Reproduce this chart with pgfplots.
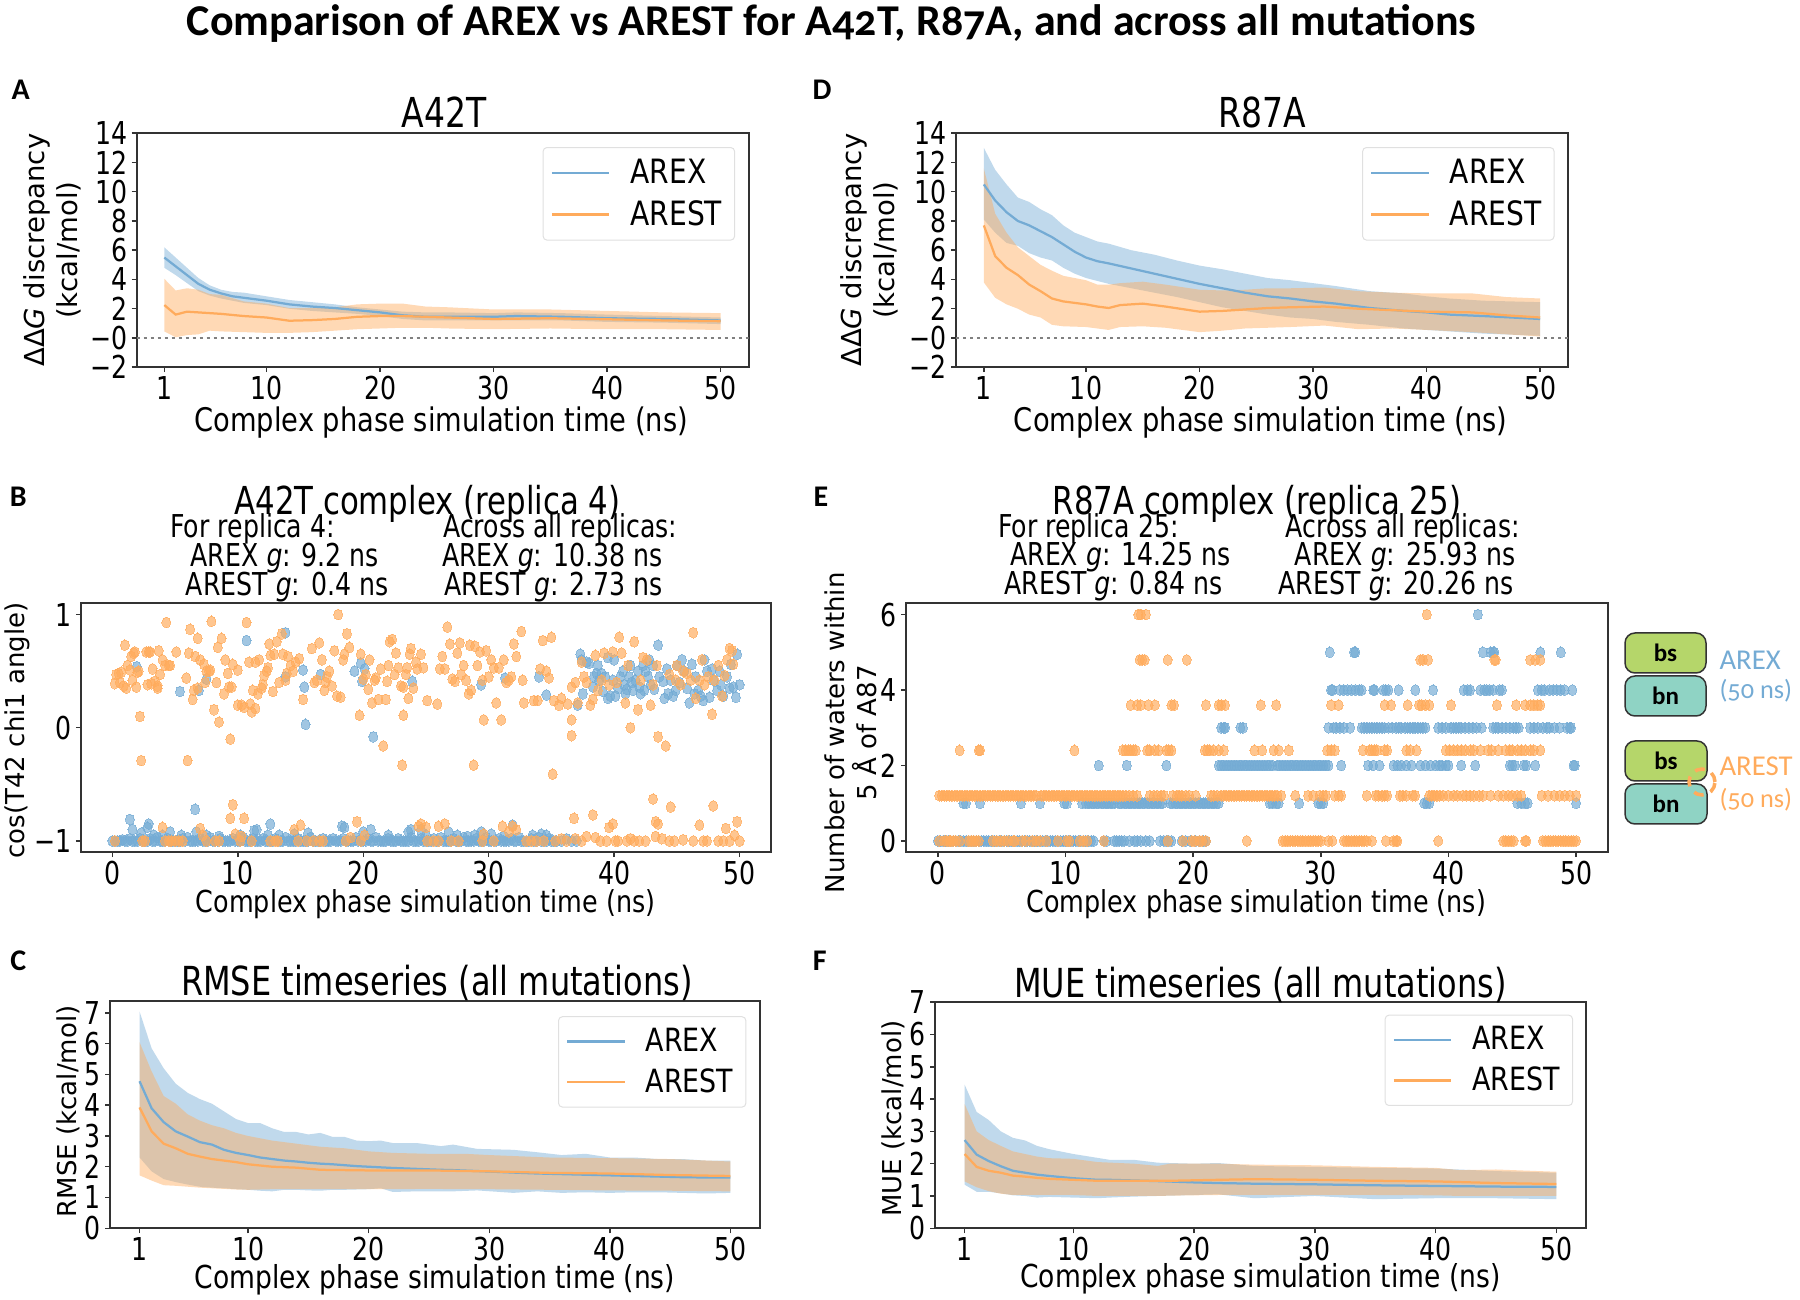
\documentclass[border=0pt]{standalone}
\usepackage{fontspec}
\usepackage{pgfplots}
\usepackage{pgfplotstable}
\pgfplotsset{compat=1.18}
\usepgfplotslibrary{fillbetween}
\setmainfont{DejaVu Sans}
% the reference is stretched upward: upright text comes out narrow
\newfontfamily\tallf[FakeStretch=0.8]{DejaVu Sans}
\newfontfamily\xlabf[FakeStretch=0.84]{DejaVu Sans}
\newfontfamily\headf[Numbers=OldStyle]{Carlito}
\newcommand{\lab}{\tallf\fontsize{12.6}{14}\selectfont}
\newcommand{\xl}[1]{\xlabf\fontsize{#1}{15}\selectfont}
\newcommand{\legf}{\xlabf\fontsize{13.4}{15}\selectfont}
\newcommand{\legs}{\xlabf\fontsize{12.8}{15}\selectfont}
\newcommand{\rot}{\rmfamily\fontsize{10.4}{12.8}\selectfont}
\newcommand{\rotb}{\rmfamily\fontsize{11}{13.2}\selectfont}
\newcommand{\ttlfont}[1]{\tallf\fontsize{#1}{18}\selectfont}

\definecolor{arex}{HTML}{74ABD4}
\definecolor{arest}{HTML}{FFAB5C}
\definecolor{frame}{HTML}{333333}
\definecolor{bsgreen}{HTML}{B5D66A}
\definecolor{bnteal}{HTML}{8FD3C4}

% columns: x, upper, mean, lower
\pgfplotstableread{
x hi mid lo
1 6.2 5.5 4.8
2 5.5 4.9 4.3
3 4.8 4.3 3.75
4 4.1 3.7 3.2
5 3.6 3.3 2.9
6 3.3 3.05 2.7
7 3.15 2.85 2.55
8 3.1 2.75 2.4
10 2.85 2.55 2.25
12 2.6 2.3 2.0
14 2.45 2.15 1.85
16 2.3 2.05 1.75
18 2.1 1.9 1.65
20 1.95 1.75 1.5
22 1.8 1.55 1.3
24 1.75 1.45 1.2
26 1.75 1.45 1.2
30 1.7 1.45 1.2
32 1.75 1.5 1.2
36 1.7 1.45 1.2
40 1.6 1.35 1.1
45 1.5 1.3 1.05
50 1.4 1.2 0.95
}\aAREX
\pgfplotstableread{
x hi mid lo
1 4.05 2.25 0.45
2 3.25 1.6 0.05
3 3.4 1.8 0.2
4 3.3 1.75 0.25
5 3.0 1.7 0.5
6 2.95 1.65 0.45
8 2.5 1.5 0.4
10 2.35 1.4 0.35
12 2.05 1.18 0.35
14 2.05 1.22 0.4
16 2.1 1.3 0.5
18 2.3 1.45 0.6
20 2.35 1.5 0.65
22 2.35 1.5 0.7
24 2.15 1.45 0.7
26 2.1 1.4 0.65
30 1.95 1.3 0.6
35 1.95 1.35 0.65
40 1.85 1.28 0.6
45 1.75 1.2 0.6
50 1.7 1.15 0.55
}\aAREST
\pgfplotstableread{
x hi mid lo
1 13 10.5 8.1
2 11.5 9.4 7.2
3 10.5 8.6 6.5
4 9.6 8.0 6.3
5 9.3 7.7 5.8
6 8.8 7.3 5.5
7 8.4 6.9 5.3
8 7.7 6.4 4.8
9 7.2 5.9 4.4
10 6.9 5.5 4.1
11 6.6 5.25 3.9
12 6.45 5.1 3.7
14 6.0 4.75 3.4
16 5.7 4.4 3.1
18 5.3 4.05 2.8
20 4.95 3.7 2.45
22 4.7 3.4 2.1
24 4.4 3.1 1.85
26 4.1 2.85 1.6
28 3.95 2.7 1.4
30 3.75 2.5 1.3
32 3.55 2.35 1.1
35 3.2 2.05 0.9
38 3.05 1.85 0.65
40 2.85 1.75 0.55
42 2.7 1.6 0.45
45 2.55 1.5 0.3
50 2.45 1.3 0.15
}\dAREX
\pgfplotstableread{
x hi mid lo
1 11.6 7.7 3.8
2 8.5 5.6 2.75
3 7.2 4.8 2.3
4 6.2 4.3 2.0
5 5.6 3.65 1.6
6 5.0 3.2 1.4
7 4.6 2.7 0.9
8 4.25 2.5 0.8
10 3.95 2.3 0.75
11 3.65 2.15 0.65
12 3.65 2.05 0.55
13 3.75 2.25 0.75
15 3.85 2.35 0.8
17 3.65 2.15 0.7
20 3.3 1.8 0.4
22 3.25 1.85 0.5
24 3.3 1.95 0.65
26 3.4 2.05 0.7
28 3.4 2.1 0.75
31 3.45 2.15 0.85
34 3.2 2.0 0.6
37 3.1 1.9 0.65
40 3.05 1.8 0.55
44 3.05 1.75 0.4
47 2.8 1.55 0.25
50 2.7 1.4 0.1
}\dAREST
\pgfplotstableread{
x hi mid lo
1 7.05 4.78 2.3
2 5.85 3.9 1.85
3 5.2 3.45 1.6
4 4.7 3.15 1.5
5 4.4 2.98 1.42
6 4.2 2.8 1.35
7 4.05 2.72 1.32
8 3.8 2.55 1.3
9 3.55 2.45 1.27
10 3.42 2.38 1.25
11 3.42 2.3 1.22
12 3.25 2.25 1.2
13 3.13 2.2 1.25
14 3.13 2.17 1.25
15 3.05 2.13 1.23
16 3.1 2.1 1.22
17 2.97 2.08 1.25
18 2.97 2.05 1.25
19 2.85 2.02 1.26
20 2.83 2.0 1.27
21 2.85 1.98 1.3
22 2.77 1.96 1.18
24 2.77 1.93 1.2
26 2.67 1.9 1.2
27 2.72 1.89 1.2
29 2.58 1.86 1.23
32 2.55 1.81 1.15
34 2.47 1.78 1.2
36 2.38 1.76 1.15
38 2.42 1.74 1.17
40 2.3 1.72 1.15
42 2.3 1.7 1.17
44 2.25 1.68 1.17
46 2.25 1.66 1.15
48 2.2 1.65 1.13
50 2.2 1.65 1.15
}\cAREX
\pgfplotstableread{
x hi mid lo
1 6.05 3.93 1.72
2 5.1 3.15 1.55
3 4.3 2.75 1.4
4 4.05 2.6 1.38
5 3.7 2.42 1.35
6 3.5 2.33 1.32
7 3.35 2.25 1.3
8 3.25 2.2 1.28
9 3.1 2.15 1.26
10 3.0 2.08 1.25
12 2.85 2.0 1.27
14 2.75 1.97 1.27
16 2.65 1.9 1.27
18 2.6 1.89 1.27
20 2.5 1.88 1.27
22 2.45 1.88 1.27
25 2.42 1.88 1.28
28 2.42 1.86 1.27
30 2.38 1.85 1.27
35 2.3 1.8 1.25
40 2.28 1.78 1.23
45 2.25 1.73 1.22
50 2.17 1.7 1.2
}\cAREST
\pgfplotstableread{
x hi mid lo
1 4.45 2.73 1.35
2 3.6 2.28 1.13
3 3.35 2.08 1.13
4 3.0 1.92 1.08
5 2.8 1.78 1.02
6 2.72 1.72 1.0
7 2.55 1.66 0.95
8 2.45 1.62 0.97
10 2.3 1.55 0.95
12 2.18 1.5 0.93
13 2.12 1.5 0.95
15 2.12 1.48 0.98
17 2.03 1.46 1.0
20 2.0 1.42 1.03
22 2.02 1.4 1.05
25 1.93 1.38 0.93
30 1.9 1.36 1.0
35 1.87 1.33 0.9
40 1.85 1.31 0.93
45 1.77 1.29 0.93
50 1.72 1.28 0.9
}\fAREX
\pgfplotstableread{
x hi mid lo
1 3.85 2.3 1.45
2 3.0 1.9 1.27
3 2.73 1.78 1.15
4 2.55 1.72 1.07
5 2.38 1.63 1.03
6 2.3 1.6 1.03
7 2.22 1.56 1.03
8 2.17 1.53 1.03
10 2.15 1.5 1.03
12 2.05 1.47 1.0
15 2.0 1.47 1.0
17 1.93 1.47 1.0
18 2.0 1.47 1.01
22 2.0 1.5 1.03
25 1.97 1.52 1.03
30 1.95 1.5 1.03
35 1.9 1.47 1.03
40 1.87 1.45 1.02
42 1.8 1.43 1.0
45 1.82 1.4 1.0
50 1.75 1.37 1.0
}\fAREST

\pgfplotsset{
  panel/.style={
    scale only axis,
    axis line style={line width=0.8pt,color=frame},
    tick style={color=frame,line width=0.6pt},
    major tick length=2pt,
    tick align=outside,
    tick pos=lower,
    ticklabel style={font=\lab,inner sep=1.5pt},
    every axis title/.style={anchor=center,inner sep=0pt},
    every axis x label/.style={anchor=center,inner sep=0pt},
    every axis y label/.style={font=\rot,anchor=center,rotate=90,align=center,inner sep=0pt},
    legend cell align=left,
    legend image code/.code={\draw[##1,line width=0.9pt] (0pt,0pt) -- (23pt,0pt);},
    legend style={font=\legf,draw=black!12,rounded corners=1.5pt,anchor=north east,
      row sep=1.3pt,inner xsep=3pt,inner ysep=2.5pt,
      /tikz/every odd column/.append style={column sep=6pt}},
  },
  timeaxis/.style={panel,xmin=-1.45,xmax=52.45,xtick={1,10,20,30,40,50},
    xticklabels={1,10,20,30,40,50}},
  dots/.style={only marks,color=#1,mark=*,mark size=1.8pt,
    mark options={draw=#1,line width=0pt,fill=#1,opacity=0.68,yscale=1.2}},
}
% one series: shaded band and mean line, read from a table
\newcommand{\band}[3]{%
  \addplot[draw=none,name path=#1hi,forget plot] table[x=x,y=hi] {#2};
  \addplot[draw=none,name path=#1lo,forget plot] table[x=x,y=lo] {#2};
  \addplot[fill=#3,fill opacity=0.45,forget plot] fill between[of=#1hi and #1lo];
  \addplot[#3,line width=0.9pt] table[x=x,y=mid] {#2};
}
% text placed in the coordinates of the shrunk reference
\newcommand{\tx}[3]{\node[font=\lab,inner sep=0pt] at ({#1*0.4592pt},{(1130-#2)*0.4592pt}) {#3};}
\newcommand{\letter}[3]{\node[font=\headf\bfseries\fontsize{12}{13}\selectfont,inner sep=0pt] at ({#1*0.4592pt},{(1130.5-#2)*0.4592pt}) {#3};}
\newcommand{\gi}{\textit{g}}

\begin{document}
\begin{tikzpicture}

\node[font=\headf\bfseries\fontsize{17.6}{22}\selectfont,inner sep=0pt] at (332.6pt,510pt)
  {Comparison of AREX vs AREST for A42T, R87A, and across all mutations};
\letter{18}{77}{A}\letter{716}{77}{D}
\letter{16}{432}{B}\letter{715}{432}{E}
\letter{16}{836}{C}\letter{714}{836}{F}

% A
\begin{axis}[timeaxis,at={(54.6pt,372.7pt)},anchor=south west,width=244.8pt,height=93.6pt,
  ymin=-2,ymax=14,ytick={-2,0,2,4,6,8,10,12,14},yticklabels={−2,−0,2,4,6,8,10,12,14},
  title={A42T},title style={font=\ttlfont{16.5},at={(axis description cs:0.503,1.09)}},
  xlabel={Complex phase simulation time (ns)},xlabel style={font=\xl{13},at={(axis description cs:0.498,-0.238)}},
  ylabel={ΔΔ\textit{G} discrepancy\\(kcal/mol)},ylabel style={font=\rotb,at={(axis description cs:-0.138,0.5)}},
  legend style={at={(0.978,0.941)}}]
\band{a}{\aAREX}{arex}
\band{b}{\aAREST}{arest}
\addplot[gray,line width=1.1pt,dash pattern=on 1.2pt off 1.6pt,forget plot] coordinates {(-1.45,0) (52.45,0)};
\legend{AREX,AREST}
\end{axis}

% D
\begin{axis}[timeaxis,at={(382.4pt,372.7pt)},anchor=south west,width=244.8pt,height=93.6pt,
  ymin=-2,ymax=14,ytick={-2,0,2,4,6,8,10,12,14},yticklabels={−2,−0,2,4,6,8,10,12,14},
  title={R87A},title style={font=\ttlfont{16.5},at={(axis description cs:0.5,1.09)}},
  xlabel={Complex phase simulation time (ns)},xlabel style={font=\xl{13},at={(axis description cs:0.498,-0.238)}},
  ylabel={ΔΔ\textit{G} discrepancy\\(kcal/mol)},ylabel style={font=\rotb,at={(axis description cs:-0.142,0.5)}},
  legend style={at={(0.978,0.941)}}]
\band{a}{\dAREX}{arex}
\band{b}{\dAREST}{arest}
\addplot[gray,line width=1.1pt,dash pattern=on 1.2pt off 1.6pt,forget plot] coordinates {(-1.45,0) (52.45,0)};
\legend{AREX,AREST}
\end{axis}

% B
\begin{axis}[panel,at={(32.4pt,178.7pt)},anchor=south west,width=276pt,height=99.6pt,
  xmin=-2.5,xmax=52.5,xtick={0,10,20,30,40,50},xticklabels={0,10,20,30,40,50},
  ymin=-1.1,ymax=1.1,ytick={-1,0,1},yticklabels={−1,0,1},
  title={A42T complex (replica 4)},title style={font=\ttlfont{15.4},at={(axis description cs:0.502,1.399)}},
  xlabel={Complex phase simulation time (ns)},xlabel style={font=\xl{12.1},at={(axis description cs:0.4995,-0.21)}},
  ylabel={cos(T42 chi1 angle)},ylabel style={at={(axis description cs:-0.092,0.49)}}]
\addplot[dots=arex] coordinates {
(1.94,.54)(5.39,.32)(6.9,.33)(7.5,.43)(10.7,.77)(13.8,.84)(13.8,.45)(15.2,.51)(15.3,.36)(15.4,.03)
(16.6,.47)(19.3,.5)(19.8,.57)(20.1,.52)(19.9,.41)(20.8,-.08)(23.9,.41)(29.4,.38)(31.3,.44)(34,.45)(34.6,.29)
(37.1,.2)(37.3,.65)(37.4,.6)(37.5,.3)(37.8,.58)(38,.57)(38.3,.36)(38.4,.45)(38.6,.48)(38.7,.55)(38.8,.42)
(39,.48)(39.1,.32)(39.3,.45)(39.5,.26)(39.5,.62)(39.7,.28)(39.9,.42)(40,.6)(40.1,.28)(40.3,.35)(40.5,.45)
(40.7,.5)(40.8,.38)(40.9,.3)(41,.34)(41.2,.45)(41.3,.55)(41.4,.4)(41.5,.33)(41.7,.42)(41.9,.5)(42,.36)
(42.1,.3)(42.3,.55)(42.4,.33)(42.5,.5)(42.7,.45)(42.8,.6)(42.9,.38)(43.1,.55)(43.2,.34)(43.5,.73)(43.6,.45)
(43.9,.41)(44,.26)(44.2,.52)(44.3,.3)(44.5,.42)(44.7,.28)(44.9,.33)(45,.55)(45.2,.4)(45.4,.6)(45.6,.5)
(45.8,.35)(46,.22)(46.2,.56)(46.4,.3)(46.5,.45)(46.7,.33)(46.9,.28)(47.1,.24)(47.2,.6)(47.4,.5)(47.6,.27)
(47.8,.52)(47.9,.42)(48.2,.33)(48.4,.5)(48.5,.38)(48.7,.28)(49,.45)(49.2,.35)(49.3,.56)(49.5,.36)(49.7,.27)
(49.8,.65)(50,.38)
(1.4,-.81)(1.6,-.9)(2.3,-.93)(2.8,-.88)(2.9,-.85)(3.3,-.95)(4,-.95)(4.6,-.92)(5.5,-.95)(6.6,-.72)(6.7,-.92)
(7.5,-.95)(8.5,-.96)(10.2,-.95)(11.3,-.91)(11.5,-.9)(12.4,-.95)(12.6,-.85)(13.3,-.95)(14.5,-.94)(15.6,-.93)
(18.3,-.87)(18.5,-.88)(20,-.92)(20.6,-.9)(22,-.95)(23.6,-.92)(23.8,-.9)(24.6,-.9)(25,-.95)(26.8,-.92)
(27.5,-.95)(28.3,-.96)(28.9,-.95)(29.4,-.92)(30.2,-.94)(31.2,-.96)(31.9,-.86)(33.5,-.95)(34.2,-.94)(34.6,-.95)
(0,-1)(.2,-1)(.4,-1)(.6,-1)(.8,-.99)(1,-1)(1.2,-1)(1.4,-.98)(1.6,-1)(1.8,-1)(2,-1)(2.2,-.98)(2.4,-1)(2.6,-1)
(2.8,-1)(3,-.98)(3.2,-1)(3.4,-1)(3.6,-.97)(3.8,-1)(4,-1)(4.2,-1)(4.4,-.98)(4.6,-1)(4.8,-1)(5,-1)(5.2,-1)
(5.4,-1)(5.6,-.98)(5.8,-1)(6,-.97)(6.2,-1)(6.4,-1)(6.6,-1)(6.8,-1)(7,-.98)(7.2,-1)(7.4,-1)(7.6,-1)(7.8,-.97)
(8,-1)(8.2,-1)(8.4,-1)(8.6,-.98)(8.8,-1)(9,-1)(9.2,-1)(9.4,-1)(9.6,-.98)(9.8,-1)(10,-1)(10.2,-1)(10.4,-.97)
(10.6,-1)(10.8,-1)(11,-1)(11.2,-.98)(11.4,-1)(11.6,-1)(11.8,-1)(12,-.98)(12.2,-1)(12.4,-1)(12.6,-1)(12.8,-1)
(13,-.98)(13.2,-1)(13.4,-1)(13.6,-1)(13.8,-.97)(14,-1)(14.2,-1)(14.4,-1)(14.6,-1)(14.8,-.98)(15,-1)(15.2,-1)
(15.4,-1)(15.6,-1)(15.8,-.97)(16,-1)(16.2,-1)(16.4,-1)(16.6,-1)(16.8,-.98)(17,-1)(17.2,-1)(17.4,-1)(17.6,-.98)
(17.8,-1)(18,-1)(18.2,-1)(18.4,-.98)(18.6,-1)(18.8,-1)(19,-1)(19.2,-1)(19.4,-.97)(19.6,-1)(19.8,-1)(20,-1)
(20.2,-1)(20.4,-.98)(20.6,-1)(20.8,-1)(21,-.97)(21.2,-1)(21.4,-1)(21.6,-1)(21.8,-1)(22,-.98)(22.2,-1)(22.4,-1)
(22.6,-1)(22.8,-.98)(23,-1)(23.2,-1)(23.4,-1)(23.6,-1)(23.8,-.97)(24,-1)(24.2,-1)(24.4,-1)(24.6,-.98)(24.8,-1)
(25,-1)(25.2,-1)(25.4,-1)(25.6,-.98)(25.8,-1)(26,-1)(26.2,-.97)(26.4,-1)(26.6,-1)(26.8,-1)(27,-1)(27.2,-.98)
(27.4,-1)(27.6,-1)(27.8,-1)(28,-.97)(28.2,-1)(28.4,-1)(28.6,-1)(28.8,-1)(29,-.98)(29.2,-1)(29.4,-1)(29.6,-1)
(29.8,-.97)(30,-1)(30.2,-1)(30.4,-1)(30.6,-1)(30.8,-.98)(31,-1)(31.2,-1)(31.4,-1)(31.6,-1)(31.8,-.98)(32,-1)
(32.2,-1)(32.4,-.97)(32.6,-1)(32.8,-1)(33,-1)(33.2,-1)(33.4,-.98)(33.6,-1)(33.8,-1)(34,-.97)(34.2,-1)(34.4,-1)
(34.6,-1)(34.8,-.98)(35,-1)(35.2,-1)(35.4,-1)(35.8,-1)(36.2,-.98)(36.6,-1)(37,-1)
};
\addplot[dots=arest] coordinates {
(.2,.39)(.3,.47)(.5,.48)(.6,.40)(.7,.49)(.9,.37)(1,.73)(1.1,.35)(1.2,.55)(1.4,.51)(1.5,.63)(1.6,.42)(1.7,.66)
(1.8,.67)(1.9,.36)(2,.49)(2.1,.5)(2.2,.10)(2.3,-.29)(2.7,.67)(2.8,.38)(2.9,.67)(3,.67)(3.1,.39)(3.2,.52)
(3.4,.41)(3.6,.37)(3.6,.35)(3.7,.68)(3.8,.47)(4,.6)(4.2,.55)(4.3,.93)(4.5,.55)(4.6,.55)(5.1,.67)(5.9,.44)
(6,-.29)(6.1,.66)(6.2,.87)(6.4,.25)(6.5,.33)(6.6,.63)(6.8,.79)(6.8,.35)(7,.6)(7.3,.56)(7.4,.4)(7.5,.5)(7.7,.5)
(7.8,.51)(7.9,.94)(8.1,.16)(8.3,.4)(8.4,.71)(8.5,.05)(8.7,.79)(8.9,.3)(9,.6)(9.2,.48)(9.3,.36)(9.4,-.1)(9.5,.36)
(9.6,.56)(10,.51)(10,.2)(10.3,.2)(10.5,.18)(10.7,.93)(10.9,.58)(11,.21)(11.1,.14)(11.2,.33)(11.4,.17)(11.4,.58)
(11.6,.3)(11.7,.6)(11.9,.35)(12,.38)(12.1,.46)(12.3,.5)(12.4,.53)(12.5,.74)(12.6,.64)(12.8,.32)(12.9,.65)
(13.1,.76)(13.3,.4)(13.5,.83)(13.6,.65)(13.8,.42)(13.9,.48)(14,.63)(14.2,.55)(14.4,.5)(14.6,.58)(14.9,.61)
(15.2,.25)(15.9,.7)(16.1,.4)(16.3,.42)(16.5,.75)(16.7,.6)(16.9,.33)(17,.4)(17.1,.45)(17.3,.5)(17.5,.37)(17.7,.68)
(17.9,.28)(18,1)(18.2,.27)(18.4,.6)(18.5,.65)(18.7,.83)(18.9,.71)(19.7,.11)(19.8,.65)(20,.43)(20.2,.47)(20.4,.34)
(20.5,.6)(20.7,.22)(20.9,.42)(21,.44)(21.2,.25)(21.4,.52)(21.6,-.16)(21.8,.25)(21.9,.41)(22,.55)(22.1,.76)(22.3,.78)
(22.5,.47)(22.6,.66)(22.8,.53)(23,.37)(23.2,.36)(23.4,.47)(23.5,.53)(23.1,-.33)(23.2,.11)(23.6,.26)(23.7,.65)(23.8,.7)
(24,.35)(24.2,.58)(24.3,.52)(24.6,.65)(24.8,.53)(25.1,.24)(25.9,.21)(26.1,.52)(26.3,.63)(26.5,.52)(26.7,.89)(26.9,.74)
(27.1,.43)(27.3,.41)(27.5,.66)(27.7,.75)(27.8,.47)(28,.55)(28.2,.42)(28.4,.3)(28.5,.73)(28.6,.33)(28.8,-.33)(28.9,.72)
(29.1,.55)(29.3,.67)(29.5,.42)(29.6,.07)(29.8,.68)(30,.45)(30.2,.6)(30.4,.53)(30.6,.22)(30.8,.53)(31,.07)(31.2,.6)
(31.4,.4)(31.6,.42)(31.8,.45)(32,.74)(32.2,.63)(32.6,.85)(32.8,.22)(32.7,.42)(33.6,.24)(33.9,.24)(34.1,.52)(34.3,.77)
(34.6,.5)(34.8,.44)(35,.8)(35.2,.24)(35.1,-.41)(35.6,.2)(35.8,.26)(36.3,.21)(36.6,.36)(36.6,.07)(36.6,-.07)(36.9,.4)
(37.1,.22)(37.4,.58)(37.6,.45)(37.8,.4)(38.1,.2)(38.3,.25)(38.5,.64)(38.7,.33)(39,.42)(39.2,.66)(39.6,.38)(39.9,.67)
(40.2,.4)(40.4,.8)(40.6,.66)(40.9,.22)(41.1,.55)(41.3,-.0)(41.6,.76)(41.9,.16)(42.1,.42)(42.3,.62)(42.6,.6)(42.9,.2)
(43.1,.38)(43.4,.55)(43.5,-.08)(44.1,-.16)(44.4,.47)(44.9,.42)(45,.55)(45.3,.38)(45.5,.5)(45.8,.48)(46.1,.42)(46.3,.84)
(46.5,.26)(46.8,.42)(47,.6)(47.2,.38)(47.5,.45)(47.8,.12)(48,.42)(48.3,.55)(48.6,.28)(48.8,.46)(49,.6)(49.2,.7)(49.4,.68)
(49.5,.56)
(2.4,-1)(.2,-1)(2.6,-1)(4,-.88)(4.2,-1)(4.5,-1)(4.7,-1)(5,-1)(5.3,-1)(5.6,-1)(7,-.89)(7.2,-.95)(7.5,-1)(8.2,-1)(8.5,-1)
(9.6,-.68)(9.4,-.8)(9.8,-.94)(10.2,-1)(10.5,-.8)(10.3,-.96)(11.1,-1)(12.6,-1)(13,-1)(13.2,-1)(14.5,-.9)(15,-.86)
(14.8,-1)(15.5,-1)(16,-1)(16.5,-1)(16.8,-1)(18.6,-1)(19,-.97)(19.5,-.83)(19.8,-1)(20.1,-.95)(24.4,-.87)(24.6,-.85)
(25,-.88)(25.1,-1)(25.6,-1)(26,-1)(26,-.87)(26.5,-.85)(27,-1)(27.6,-1)(29.6,-.94)(29.5,-1)(30.4,-1)(31.1,-.87)(31.6,-.92)
(31.9,-.87)(32.2,-.9)(33,-1)(33.4,-1)(33.8,-1)(34.4,-1)(35.3,-1)(35.8,-.98)(36.2,-1)(36.8,-.8)(36.9,-.98)(37.4,-1)
(37.8,-.96)(38.3,-.77)(38.5,-.97)(38.9,-1)(39.4,-1)(39.6,-.88)(39.9,-.85)(40.1,-1)(40.3,-1)(41,-1)(41.3,-.98)(41.6,-1)
(42,-1)(42.5,-1)(43.1,-.63)(43.3,-.83)(43.5,-.85)(43.3,-.96)(43.8,-.98)(44.5,-.7)(44.4,-1)(44.8,-1)(45.5,-.99)(46.3,-1)
(46.8,-.86)(47.1,-1)(47.4,-1)(47.9,-.69)(48.3,-1)(48.7,-1)(48.9,-.89)(49.2,-1)(49.6,-.95)(49.8,-.83)(50,-1)
};
\end{axis}
\tx{220}{459}{For replica 4:}
\tx{248}{485}{AREX \gi: 9.2 ns}
\tx{250}{510}{AREST \gi: 0.4 ns}
\tx{488}{459}{Across all replicas:}
\tx{481}{485}{AREX \gi: 10.38 ns}
\tx{482}{510}{AREST \gi: 2.73 ns}

% E
\begin{axis}[panel,at={(362.4pt,178.7pt)},anchor=south west,width=280.8pt,height=99.6pt,
  xmin=-2.5,xmax=52.5,xtick={0,10,20,30,40,50},xticklabels={0,10,20,30,40,50},
  ymin=-0.3,ymax=6.3,ytick={0,2,4,6},yticklabels={0,2,4,6},
  title={R87A complex (replica 25)},title style={font=\ttlfont{15.4},at={(axis description cs:0.5,1.399)}},
  xlabel={Complex phase simulation time (ns)},xlabel style={font=\xl{12.1},at={(axis description cs:0.499,-0.21)}},
  ylabel={Number of waters within\\5 Å of A87},ylabel style={at={(axis description cs:-0.078,0.48)}}]
\addplot[dots=arex] coordinates {
(0,0)(.2,0)(.4,0)(.6,0)(.8,0)(1,0)(1.2,0)(1.4,0)(1.6,0)(1.8,0)(2,0)(2.2,0)(2.4,0)(2.6,0)(2.8,0)(3,0)(3.2,0)(3.4,0)
(3.6,0)(3.8,0)(4,0)(4.2,0)(4.4,0)(4.6,0)(4.8,0)(5,0)(5.2,0)(5.4,0)(5.6,0)(5.8,0)(6,0)(6.2,0)(6.4,0)(6.6,0)(6.8,0)
(7,0)(7.2,0)(7.4,0)(7.6,0)(7.8,0)(8,0)(8.2,0)(8.4,0)(8.6,0)(8.8,0)(9,0)(9.2,0)(9.4,0)(9.6,0)(9.8,0)(10,0)(10.2,0)
(10.4,0)(10.6,0)(10.8,0)(11,0)(11.2,0)(11.4,0)(11.6,0)(11.8,0)(12,0)(12.2,0)(13,0)(13.2,0)(13.8,0)(14,0)(14.2,0)
(14.4,0)(14.6,0)(15,0)(15.4,0)(15.6,0)(15.9,0)(16.3,0)(16.6,0)(17.4,0)(17.7,0)(17.9,0)(18.1,0)(18.3,0)(19.1,0)
(19.4,0)(19.8,0)(20.2,0)(20.5,0)(20.8,0)(21,0)
(2,1)(2.2,1)(3.3,1)(6.5,1)(8,1)(9.9,1)(10.1,1)(11.3,1)(11.6,1)(11.8,1)(12,1)(12.2,1)(12.4,1)(12.6,1)(12.8,1)(13,1)
(13.2,1)(13.4,1)(13.6,1)(13.8,1)(14.2,1)(14.4,1)(14.6,1)(14.8,1)(15,1)(15.2,1)(15.4,1)(15.6,1)(15.8,1)(16,1)(16.2,1)
(16.4,1)(16.6,1)(16.8,1)(17,1)(17.2,1)(17.4,1)(17.6,1)(18.2,1)(18.4,1)(18.6,1)(18.8,1)(19,1)(19.2,1)(19.4,1)(19.6,1)
(19.8,1)(20,1)(20.2,1)(20.4,1)(20.6,1)(20.8,1)(21,1)(21.2,1)(21.4,1)(21.6,1)(21.8,1)(22,1)
(26,1)(26.2,1)(26.5,1)(26.7,1)(28.3,1)(29.8,1)(30,1)(30.2,1)(38.1,1)(38.3,1)(38.5,1)(45.4,1)(45.7,1)(46,1)(46.2,1)(50,1)
(12.6,2)(14.8,2)(17.9,2)(22,2)(22.2,2)(22.4,2)(22.6,2)(22.8,2)(23,2)(23.2,2)(23.4,2)(23.6,2)(23.8,2)(24,2)(24.2,2)
(24.4,2)(24.6,2)(24.8,2)(25,2)(25.2,2)(25.4,2)(25.6,2)(25.8,2)(26,2)(26.2,2)(26.6,2)(26.8,2)(27,2)(27.2,2)(27.4,2)
(27.6,2)(27.8,2)(28,2)(28.2,2)(28.4,2)(28.6,2)(28.8,2)(29,2)(29.2,2)(29.4,2)(29.6,2)(29.8,2)(30,2)(30.2,2)(30.4,2)(30.6,2)
(31.6,2)(33.7,2)(34.1,2)(34.6,2)(35.7,2)(36,2)(36.3,2)(36.7,2)(37.1,2)(37.8,2)(38.2,2)(38.6,2)(39,2)(39.3,2)(39.5,2)
(39.8,2)(40,2)(41,2)(42.1,2)(44.8,2)(45,2)(45.2,2)(45.9,2)(46.1,2)(46.8,2)(49.8,2)(49.9,2)
(22.2,3)(22.4,3)(22.5,3)(23.7,3)(23.9,3)(30.6,3)(31,3)(31.2,3)(31.5,3)(31.8,3)(32.3,3)(33.2,3)(33.4,3)(33.6,3)(33.8,3)
(34,3)(34.2,3)(34.4,3)(34.6,3)(34.8,3)(35,3)(35.3,3)(35.6,3)(35.9,3)(36.1,3)(36.3,3)(36.6,3)(36.8,3)(37,3)(37.2,3)
(37.4,3)(37.6,3)(37.8,3)(38,3)(38.2,3)(39.2,3)(39.5,3)(39.8,3)(40.2,3)(40.4,3)(40.6,3)(40.8,3)(41,3)(41.3,3)(41.6,3)
(41.9,3)(42.2,3)(42.6,3)(43.5,3)(43.7,3)(43.9,3)(44.2,3)(44.5,3)(44.8,3)(45.1,3)(45.3,3)(45.5,3)(46.4,3)(46.7,3)
(47,3)(47.4,3)(47.7,3)(47.9,3)(48.3,3)(48.7,3)(49.3,3)(49.5,3)(49.6,3)
(30.8,4)(30.9,4)(31.5,4)(31.8,4)(32.1,4)(32.4,4)(32.7,4)(33,4)(33.2,4)(34.1,4)(34.2,4)(34.9,4)(35.1,4)(35.3,4)(36.1,4)
(37.4,4)(38.8,4)(41.2,4)(41.5,4)(41.7,4)(42.5,4)(42.8,4)(43,4)(43.2,4)(43.5,4)(44,4)(44.2,4)(47,4)(47.3,4)(47.5,4)
(47.9,4)(48.2,4)(48.5,4)(48.8,4)(49.1,4)(49.7,4)
(30.7,5)(32.6,5)(32.7,5)(42.7,5)(43.3,5)(43.5,5)(43.6,5)(47.2,5)(48.8,5)(42.3,6)
};
\addplot[dots=arest] coordinates {
(.1,0)(.5,0)(.7,0)(.9,0)(1,0)(1.2,0)(1.4,0)(1.7,0)(2.4,0)(2.6,0)(2.8,0)(3,0)(3.2,0)(4.3,0)(4.6,0)(4.9,0)(5.2,0)(5.5,0)
(5.9,0)(6,0)(6.6,0)(6.9,0)(7.4,0)(7.7,0)(8,0)(8.5,0)(9.4,0)(10.1,0)(10.3,0)(11.1,0)(11.4,0)(11.7,0)(13,0)(18,0)(19.2,0)
(19.9,0)(20.1,0)(20.5,0)(20.7,0)(21,0)(24.2,0)(27,0)(27.2,0)(27.4,0)(27.6,0)(27.8,0)(28,0)(28.2,0)(28.4,0)(28.6,0)
(28.8,0)(29,0)(29.2,0)(29.4,0)(29.6,0)(29.8,0)(30,0)(30.6,0)(30.9,0)(31.8,0)(32,0)(32.2,0)(32.4,0)(32.6,0)(32.8,0)
(33,0)(33.2,0)(33.4,0)(33.6,0)(34,0)(35.1,0)(35.7,0)(35.9,0)(36,0)(39.2,0)(44.3,0)(44.5,0)(44.7,0)(44.9,0)(45.1,0)
(46,0)(46.1,0)(47.4,0)(47.6,0)(47.8,0)(48,0)(48.2,0)(48.4,0)(48.6,0)(48.8,0)(49,0)(49.2,0)(49.4,0)(49.6,0)(49.8,0)(50,0)
(.1,1.2)(.3,1.2)(.5,1.2)(.7,1.2)(.9,1.2)(1.1,1.2)(1.3,1.2)(1.5,1.2)(1.7,1.2)(1.9,1.2)(2.1,1.2)(2.3,1.2)(2.5,1.2)(2.7,1.2)
(2.9,1.2)(3.1,1.2)(3.3,1.2)(3.5,1.2)(3.7,1.2)(3.9,1.2)(4.1,1.2)(4.3,1.2)(4.5,1.2)(4.7,1.2)(4.9,1.2)(5.1,1.2)(5.3,1.2)
(5.5,1.2)(5.7,1.2)(5.9,1.2)(6.1,1.2)(6.3,1.2)(6.5,1.2)(6.7,1.2)(6.9,1.2)(7.1,1.2)(7.3,1.2)(7.5,1.2)(7.7,1.2)(8.1,1.2)
(8.3,1.2)(8.5,1.2)(8.7,1.2)(8.9,1.2)(9.1,1.2)(9.3,1.2)(9.5,1.2)(9.7,1.2)(9.9,1.2)(10.1,1.2)(10.3,1.2)(10.5,1.2)(10.7,1.2)
(10.9,1.2)(11.1,1.2)(11.3,1.2)(11.5,1.2)(11.7,1.2)(11.9,1.2)(12.1,1.2)(12.3,1.2)(12.5,1.2)(12.7,1.2)(12.9,1.2)(13.1,1.2)
(13.3,1.2)(13.5,1.2)(13.7,1.2)(13.9,1.2)(14.1,1.2)(14.3,1.2)(14.5,1.2)(14.7,1.2)(15,1.2)(15.3,1.2)(15.6,1.2)
(16.6,1.2)(16.9,1.2)(17.2,1.2)(17.5,1.2)(17.7,1.2)(18.4,1.2)(18.7,1.2)(18.9,1.2)(19.1,1.2)(19.4,1.2)(19.7,1.2)(20.2,1.2)
(21.4,1.2)(21.6,1.2)(21.9,1.2)(22.2,1.2)(22.4,1.2)(22.6,1.2)(22.8,1.2)(23,1.2)(23.2,1.2)(23.4,1.2)(23.6,1.2)(23.8,1.2)
(24,1.2)(24.2,1.2)(24.4,1.2)(24.6,1.2)(24.8,1.2)(25,1.2)(25.2,1.2)(25.4,1.2)(25.6,1.2)(25.8,1.2)(26,1.2)(26.2,1.2)(26.4,1.2)
(26.6,1.2)(26.9,1.2)(28,1.2)(29,1.2)(29.4,1.2)(29.9,1.2)(30.2,1.2)(30.4,1.2)(31.1,1.2)(31.4,1.2)(31.6,1.2)(33.6,1.2)
(34.3,1.2)(34.5,1.2)(34.8,1.2)(35,1.2)(35.2,1.2)(36.2,1.2)(36.4,1.2)(36.7,1.2)(37.2,1.2)(37.4,1.2)
(38.5,1.2)(38.7,1.2)(38.9,1.2)(39.1,1.2)(39.3,1.2)(39.6,1.2)(40,1.2)(40.4,1.2)(40.7,1.2)(41.1,1.2)(41.4,1.2)(41.7,1.2)
(42,1.2)(42.4,1.2)(42.7,1.2)(43.3,1.2)(43.9,1.2)(44.3,1.2)(44.7,1.2)(45,1.2)(45.4,1.2)(45.7,1.2)(47.3,1.2)(47.8,1.2)
(48.3,1.2)(48.7,1.2)(49.1,1.2)(49.5,1.2)(50,1.2)
(1.7,2.4)(3.2,2.4)(3.3,2.4)(10.7,2.4)(14.5,2.4)(14.7,2.4)(14.9,2.4)(15.1,2.4)(15.3,2.4)(15.5,2.4)(16.4,2.4)(16.6,2.4)(17,2.4)
(17.3,2.4)(17.9,2.4)(18.1,2.4)(18.3,2.4)(20.9,2.4)(21.1,2.4)(21.3,2.4)(21.6,2.4)(22,2.4)(22.4,2.4)(24.8,2.4)(25.4,2.4)
(26.3,2.4)(26.7,2.4)(27.5,2.4)(30.5,2.4)(30.8,2.4)(31.1,2.4)(33.3,2.4)(33.8,2.4)(34,2.4)(34.2,2.4)(34.4,2.4)(35,2.4)(35.2,2.4)
(36.7,2.4)(37,2.4)(37.5,2.4)(39.8,2.4)(40.1,2.4)(40.4,2.4)(40.7,2.4)(41,2.4)(41.3,2.4)(41.7,2.4)(42,2.4)(42.5,2.4)(43.1,2.4)
(43.4,2.4)(43.9,2.4)(44.5,2.4)(44.8,2.4)(45,2.4)(45.4,2.4)(45.7,2.4)(46,2.4)(46.4,2.4)(46.7,2.4)(47.2,2.4)
(15.1,3.6)(15.6,3.6)(15.9,3.6)(16.5,3.6)(17,3.6)(18.3,3.6)(18.5,3.6)(21,3.6)(22,3.6)(22.2,3.6)(22.5,3.6)(25.3,3.6)(26.5,3.6)
(30.8,3.6)(31.4,3.6)(35,3.6)(35.5,3.6)(36.8,3.6)(37.7,3.6)(37.9,3.6)(38.2,3.6)(38.5,3.6)(40.2,3.6)(43.8,3.6)(45.3,3.6)(46,3.6)
(46.4,3.6)(46.7,3.6)(47,3.6)(47.2,3.6)
(15.8,4.8)(16,4.8)(16.2,4.8)(18,4.8)(19.5,4.8)(37.8,4.8)(38,4.8)(38.4,4.8)(43.6,4.8)(43.7,4.8)(46.4,4.8)(46.8,4.8)(47.2,4.8)
(15.7,6)(15.9,6)(16.3,6)(38.3,6)
};
\end{axis}
\tx{948}{459}{For replica 25:}
\tx{976}{484}{AREX \gi: 14.25 ns}
\tx{970}{509}{AREST \gi: 0.84 ns}
\tx{1222}{459}{Across all replicas:}
\tx{1224}{484}{AREX \gi: 25.93 ns}
\tx{1216}{509}{AREST \gi: 20.26 ns}

% C
\begin{axis}[timeaxis,at={(44pt,28.3pt)},anchor=south west,width=260pt,height=90.8pt,
  ymin=0,ymax=7.38,ytick={0,1,...,7},yticklabels={0,1,2,3,4,5,6,7},
  title={RMSE timeseries (all mutations)},title style={font=\ttlfont{16},at={(axis description cs:0.503,1.08)}},
  xlabel={Complex phase simulation time (ns)},xlabel style={font=\xl{12.65},at={(axis description cs:0.5,-0.225)}},
  ylabel={RMSE (kcal/mol)},ylabel style={at={(axis description cs:-0.064,0.515)}},
  legend style={font=\legs,at={(0.979,0.934)}}]
\band{a}{\cAREX}{arex}
\band{b}{\cAREST}{arest}
\legend{AREX,AREST}
\end{axis}

% F
\begin{axis}[timeaxis,at={(374pt,28.3pt)},anchor=south west,width=260.4pt,height=90.4pt,
  ymin=0,ymax=7,ytick={0,1,...,7},yticklabels={0,1,2,3,4,5,6,7},
  title={MUE timeseries (all mutations)},title style={font=\ttlfont{16},at={(axis description cs:0.5,1.075)}},
  xlabel={Complex phase simulation time (ns)},xlabel style={font=\xl{12.65},at={(axis description cs:0.5,-0.225)}},
  ylabel={MUE (kcal/mol)},ylabel style={at={(axis description cs:-0.064,0.485)}},
  legend style={font=\legs,at={(0.98,0.945)}}]
\band{a}{\fAREX}{arex}
\band{b}{\fAREST}{arest}
\legend{AREX,AREST}
\end{axis}

% cartoon key on the right
\tikzset{keybox/.style={draw=frame,line width=0.6pt,rounded corners=4pt,fill=#1}}
\draw[keybox=bsgreen] (650pt,250.4pt) rectangle (682.4pt,266.4pt);
\draw[keybox=bnteal] (650pt,233.2pt) rectangle (682.4pt,249.2pt);
\draw[keybox=bsgreen] (650pt,207.2pt) rectangle (682.8pt,223.2pt);
\draw[keybox=bnteal] (650pt,190pt) rectangle (682.8pt,206pt);
\node[font=\headf\bfseries\fontsize{10}{12}\selectfont] at (666.2pt,258.4pt) {bs};
\node[font=\headf\bfseries\fontsize{10}{12}\selectfont] at (666.2pt,241.2pt) {bn};
\node[font=\headf\bfseries\fontsize{10}{12}\selectfont] at (666.4pt,215.2pt) {bs};
\node[font=\headf\bfseries\fontsize{10}{12}\selectfont] at (666.4pt,198pt) {bn};
\node[font=\headf\fontsize{11.5}{13}\selectfont,text=arex,anchor=west,inner sep=0pt] at (687.6pt,255.6pt) {AREX};
\node[font=\headf\fontsize{10.5}{13}\selectfont,text=arex,anchor=west,inner sep=0pt] at (687.6pt,243.2pt) {(50 ns)};
\node[font=\headf\fontsize{11.5}{13}\selectfont,text=arest,anchor=west,inner sep=0pt] at (687.6pt,213pt) {AREST};
\node[font=\headf\fontsize{10.5}{13}\selectfont,text=arest,anchor=west,inner sep=0pt] at (687.6pt,199.6pt) {(50 ns)};
\draw[arest,line width=1.4pt,dash pattern=on 4pt off 3pt] (680.8pt,206.8pt) circle (5.2pt);
\useasboundingbox (0pt,0pt) rectangle (720pt,519.6pt);
\end{tikzpicture}
\end{document}
